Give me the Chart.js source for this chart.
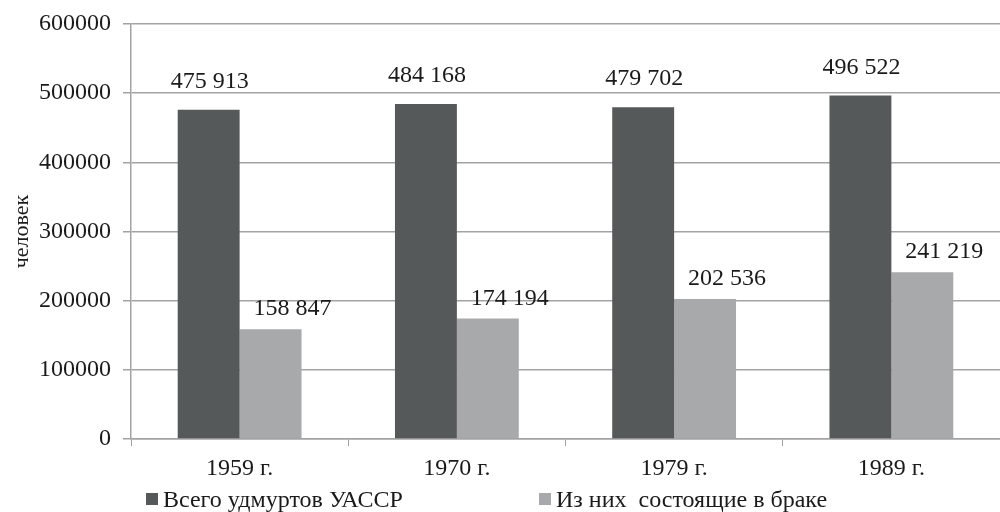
<!DOCTYPE html>
<html>
<head>
<meta charset="utf-8">
<script src="https://cdn.jsdelivr.net/npm/chart.js@4/dist/chart.umd.min.js"></script>
<style>
  html, body { margin: 0; padding: 0; background: #ffffff; }
  #wrap { width: 1000px; height: 512px; }
</style>
</head>
<body>
<div id="wrap"><canvas id="c" width="1000" height="512"></canvas></div>
<script>
// Census years
const categories = ['1959 г.', '1970 г.', '1979 г.', '1989 г.'];
// Total Udmurts in the Udmurt ASSR
const totalUdmurts = [475913, 484168, 479702, 496522];
// Of them, married
const married = [158847, 174194, 202536, 241219];
// Series names
const seriesNames = ['Всего удмуртов УАССР', 'Из них  состоящие в браке'];
const axisTitle = 'человек';

const FONT = '"Liberation Serif", "Times New Roman", serif';
const FS = 24;
const DARK = '#56595a';
const LIGHT = '#a7a9aa';
const GRID = '#a3a3a3';

function fmt(v) {
  const s = String(v);
  return s.replace(/\B(?=(\d{3})+(?!\d))/g, ' ');
}

// Value labels above every bar
const valueLabels = {
  id: 'valueLabels',
  afterDatasetsDraw(chart, args, opts) {
    const ctx = chart.ctx;
    ctx.save();
    ctx.font = FS + 'px ' + FONT;
    ctx.fillStyle = '#1a1a1a';
    ctx.textAlign = 'center';
    ctx.textBaseline = 'alphabetic';
    chart.data.datasets.forEach((ds, i) => {
      const meta = chart.getDatasetMeta(i);
      const off = opts.offsets[i];
      meta.data.forEach((bar, j) => {
        ctx.fillText(fmt(ds.data[j]), bar.x + off.dx, bar.y - off.dy);
      });
    });
    ctx.restore();
  }
};

// Legend row under the category labels
const bottomLegend = {
  id: 'bottomLegend',
  afterDraw(chart, args, opts) {
    const ctx = chart.ctx;
    ctx.save();
    ctx.font = FS + 'px ' + FONT;
    ctx.textBaseline = 'alphabetic';
    ctx.textAlign = 'left';
    chart.data.datasets.forEach((ds, i) => {
      const x = opts.xs[i];
      ctx.fillStyle = ds.backgroundColor;
      ctx.fillRect(x, opts.boxTop, 12, 12);
      ctx.fillStyle = '#1a1a1a';
      ctx.fillText(ds.label, x + 17, opts.baseline);
    });
    ctx.restore();
  }
};

new Chart(document.getElementById('c'), {
  type: 'bar',
  data: {
    labels: categories,
    datasets: [
      { label: seriesNames[0], data: totalUdmurts, backgroundColor: DARK },
      { label: seriesNames[1], data: married, backgroundColor: LIGHT }
    ]
  },
  options: {
    responsive: false,
    animation: false,
    devicePixelRatio: 1,
    layout: { autoPadding: false, padding: { top: 24, right: 0, bottom: 0, left: 0 } },
    datasets: {
      bar: { categoryPercentage: 0.57, barPercentage: 1.0, borderWidth: 0 }
    },
    plugins: {
      legend: { display: false },
      tooltip: { enabled: false },
      valueLabels: { offsets: [{ dx: 1, dy: 22 }, { dx: 22, dy: 14 }] },
      bottomLegend: { xs: [146, 539], boxTop: 493, baseline: 507 }
    },
    scales: {
      x: {
        offset: true,
        grid: {
          offset: true,
          drawOnChartArea: false,
          drawTicks: true,
          tickLength: 7,
          color: GRID
        },
        border: { color: GRID, width: 1.5 },
        ticks: {
          color: '#1a1a1a',
          font: { family: FONT, size: FS },
          padding: 8,
          maxRotation: 0
        },
        afterFit(scale) {
          scale.height = 73;
          scale.paddingLeft = 0;
          scale.paddingRight = 0;
        }
      },
      y: {
        min: 0,
        max: 600000,
        ticks: {
          stepSize: 100000,
          color: '#1a1a1a',
          font: { family: FONT, size: FS },
          padding: 12,
          callback: (v) => String(v)
        },
        grid: {
          color: GRID,
          lineWidth: 1.5,
          tickLength: 8
        },
        border: { color: GRID, width: 1.5 },
        title: {
          display: true,
          text: axisTitle,
          color: '#1a1a1a',
          font: { family: FONT, size: 22 },
          padding: { top: 9, bottom: 0 }
        },
        afterFit(scale) {
          scale.width = 131;
          scale.paddingTop = 0;
          scale.paddingBottom = 0;
        }
      }
    }
  },
  plugins: [valueLabels, bottomLegend]
});
</script>
</body>
</html>
